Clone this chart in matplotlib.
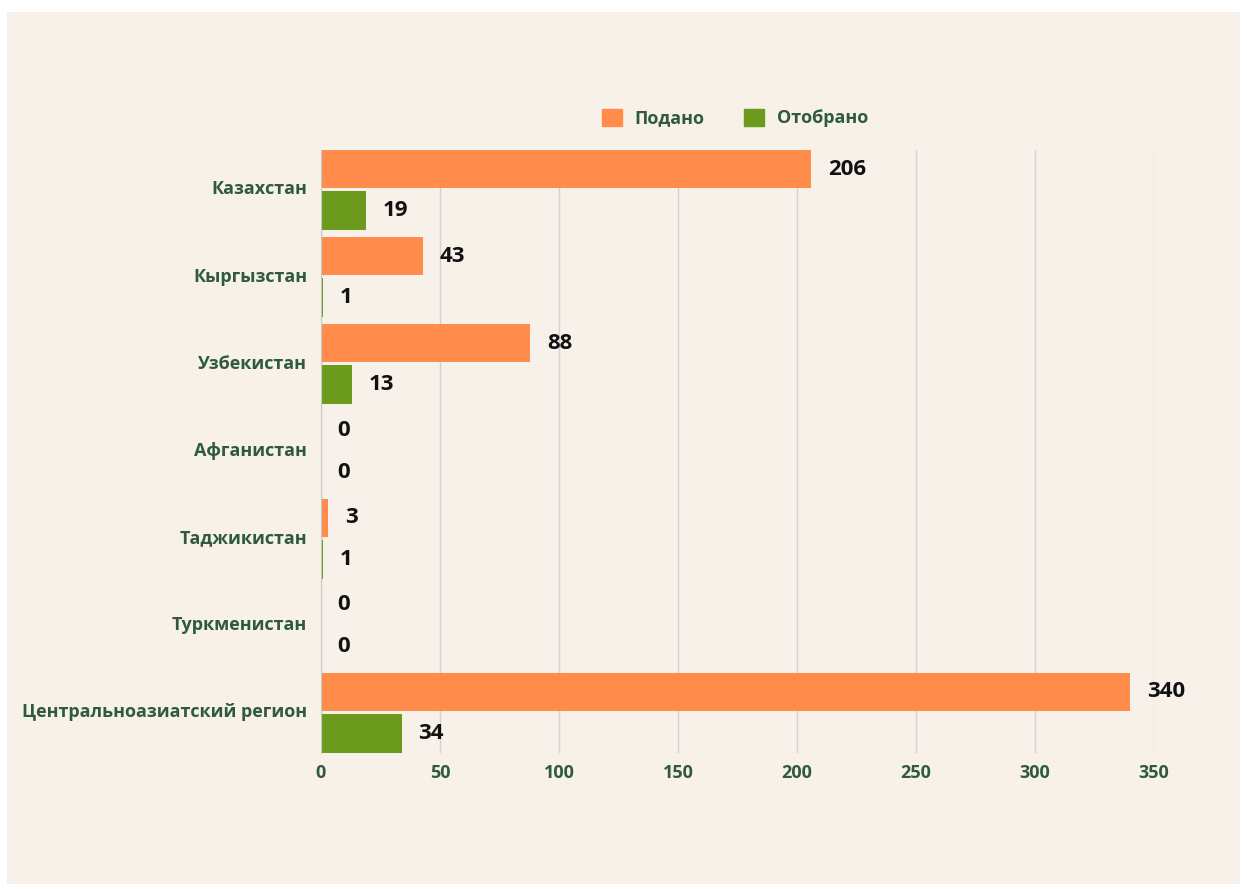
import matplotlib
matplotlib.use("Agg")
import matplotlib.pyplot as plt
import numpy as np
from matplotlib.patches import Rectangle

categories = ["Казахстан", "Кыргызстан", "Узбекистан", "Афганистан",
              "Таджикистан", "Туркменистан", "Центральноазиатский регион"]
submitted = [206, 43, 88, 0, 3, 0, 340]
selected = [19, 1, 13, 0, 1, 0, 34]
series_names = ["Подано", "Отобрано"]
xticks = [0, 50, 100, 150, 200, 250, 300, 350]

ORANGE = "#FF8C4B"
GREEN = "#6C9A1C"
TXT_GREEN = "#2F5B3C"
BG = "#F7F1EA"

plt.rcParams['font.family'] = ['Open Sans', 'DejaVu Sans']
plt.rcParams['font.weight'] = 'bold'

fig = plt.figure(figsize=(12.47, 8.89), dpi=100)
fig.patch.set_facecolor("white")
fig.patches.append(Rectangle((7/1247, 5/889), 1233/1247, 872/889,
                             transform=fig.transFigure, facecolor=BG,
                             edgecolor="none", zorder=-10))

ax = fig.add_axes([321/1247, 1 - 753/889, 833/1247, 603/889])
ax.set_facecolor("none")

y = np.arange(len(categories))
h1 = 0.437
h2 = 0.448
gap = 0.035
top = -0.46
b1 = ax.barh(y + top + h1/2, submitted, height=h1, color=ORANGE, zorder=3)
b2 = ax.barh(y + top + h1 + gap + h2/2, selected, height=h2, color=GREEN, zorder=3)

ax.set_ylim(len(categories) - 1 + 0.46, -0.46)
ax.set_xlim(0, 350)
ax.set_yticks(y - 0.03)
ax.set_yticklabels(categories, fontsize=13, fontweight='bold', color=TXT_GREEN)
ax.set_xticks(xticks)
ax.set_xticklabels([str(t) for t in xticks], fontsize=13, fontweight='bold', color=TXT_GREEN)
ax.tick_params(axis='x', length=0, pad=8)
ax.tick_params(axis='y', length=0, pad=10)

ax.grid(axis='x', color="#D2D2CE", linewidth=1, zorder=0)
for s in ["top", "right", "bottom"]:
    ax.spines[s].set_visible(False)
ax.spines["left"].set_color("#C8C8C4")
ax.spines["left"].set_zorder(4)

for bars, vals in ((b1, submitted), (b2, selected)):
    ax.bar_label(bars, labels=[str(v) for v in vals], padding=12,
                 fontsize=16, fontweight='bold', color="#111111", clip_on=False)

handles = [Rectangle((0, 0), 1, 1, color=ORANGE), Rectangle((0, 0), 1, 1, color=GREEN)]
leg = fig.legend(handles, series_names, loc="center", bbox_to_anchor=(735/1247, 1 - 118/889),
                 ncol=2, frameon=False, fontsize=13, handlelength=1.1, handleheight=1.1,
                 columnspacing=2.2, handletextpad=0.7)
for t in leg.get_texts():
    t.set_color(TXT_GREEN)
    t.set_fontweight('bold')

fig.savefig("out.png", dpi=100, facecolor=fig.get_facecolor())
